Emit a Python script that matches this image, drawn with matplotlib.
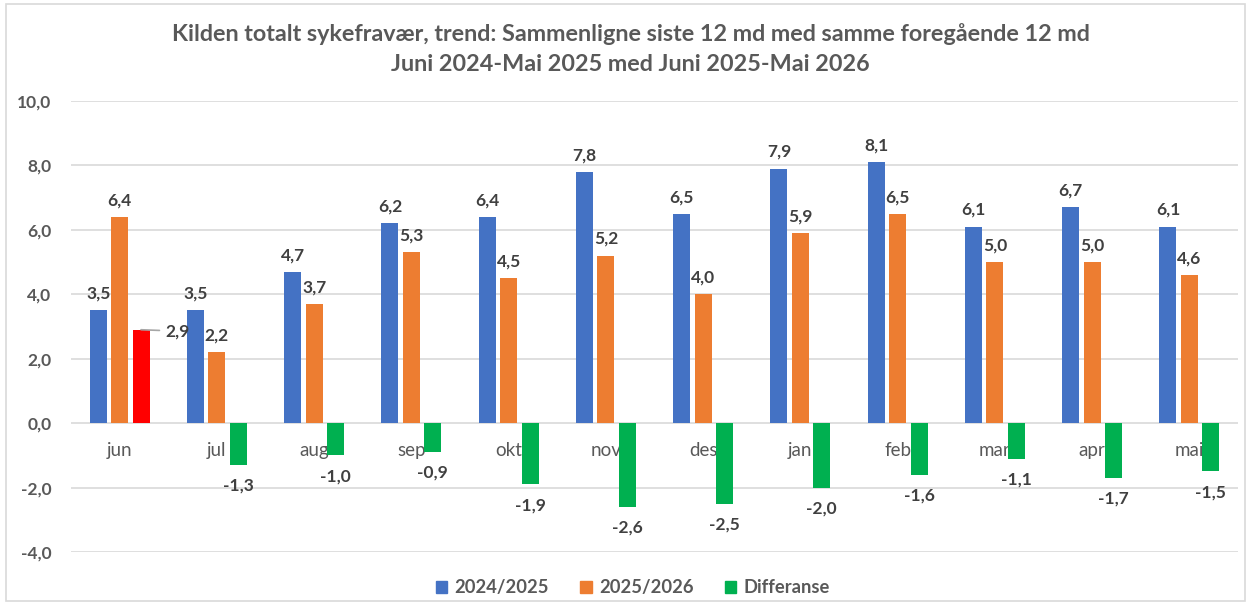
import matplotlib
matplotlib.use("Agg")
import matplotlib.pyplot as plt
from matplotlib.patches import Rectangle
import numpy as np

months = ["jun", "jul", "aug", "sep", "okt", "nov", "des", "jan", "feb", "mar", "apr", "mai"]
series_2024 = [3.5, 3.5, 4.7, 6.2, 6.4, 7.8, 6.5, 7.9, 8.1, 6.1, 6.7, 6.1]
series_2025 = [6.4, 2.2, 3.7, 5.3, 4.5, 5.2, 4.0, 5.9, 6.5, 5.0, 5.0, 4.6]
differanse = [2.9, -1.3, -1.0, -0.9, -1.9, -2.6, -2.5, -2.0, -1.6, -1.1, -1.7, -1.5]
series_names = ["2024/2025", "2025/2026", "Differanse"]
yticks = [-4, -2, 0, 2, 4, 6, 8, 10]
title = ("Kilden totalt sykefravær, trend: Sammenligne siste 12 md med samme foregående 12 md\n"
         "Juni 2024-Mai 2025 med Juni 2025-Mai 2026")

BLUE, ORANGE, GREEN, RED = "#4472C4", "#ED7D31", "#00B050", "#FF0000"
GRAY = "#595959"
LBL = "#404040"
FONT = ["Lato", "DejaVu Sans"]
plt.rcParams["font.family"] = FONT

fig = plt.figure(figsize=(12.51, 6.04), dpi=100)
fig.patches.append(Rectangle((0.005, 0.005), 0.99, 0.988, transform=fig.transFigure,
                             fill=False, edgecolor="#d9d9d9", linewidth=1.2))
ax = fig.add_axes([71 / 1251, 1 - 552 / 604, (1238 - 71) / 1251, (552 - 101) / 604])

x = np.arange(len(months))
w = 0.175
pitch = 0.22
diff_colors = [RED if v > 0 else GREEN for v in differanse]
b1 = ax.bar(x - pitch, series_2024, w, color=BLUE, zorder=2, label=series_names[0])
b2 = ax.bar(x, series_2025, w, color=ORANGE, zorder=2, label=series_names[1])
b3 = ax.bar(x + pitch, differanse, w, color=diff_colors, zorder=2, label=series_names[2])

ax.set_xlim(-0.5, len(months) - 0.5)
ax.set_ylim(-4, 10)
ax.set_yticks(yticks)
ax.set_yticklabels([f"{t:.1f}".replace(".", ",") for t in yticks],
                   fontsize=12.5, fontweight="bold", color=GRAY)
ax.yaxis.grid(True, color="#d9d9d9", linewidth=1.2, zorder=0)
ax.set_axisbelow(True)
for s in ax.spines.values():
    s.set_visible(False)
ax.tick_params(axis="y", length=0, pad=14)
ax.set_xticks([])

# category labels near the zero line
for i, m in enumerate(months):
    ax.annotate(m, (i, 0), xytext=(0, -19.5), textcoords="offset points",
                ha="center", va="center", fontsize=13.5, color=GRAY, zorder=1)

def fmt(v):
    return f"{v:.1f}".replace(".", ",")

for bars, vals in ((b1, series_2024), (b2, series_2025)):
    for r, v in zip(bars, vals):
        ax.annotate(fmt(v), (r.get_x() + r.get_width() / 2, v), xytext=(0, 12),
                    textcoords="offset points", ha="center", va="center",
                    fontsize=12.5, fontweight="bold", color=LBL, zorder=4)

for r, v in zip(b3, differanse):
    cx = r.get_x() + r.get_width() / 2
    if v > 0:
        ax.annotate(fmt(v), (cx, v), xytext=(26, -1), textcoords="offset points",
                    ha="center", va="center", fontsize=12.5, fontweight="bold",
                    color=LBL, zorder=4,
                    arrowprops=dict(arrowstyle="-", color="#a6a6a6", lw=1.2,
                                    shrinkA=2, shrinkB=0))
    else:
        ax.annotate(fmt(v), (cx, v), xytext=(0, -15), textcoords="offset points",
                    ha="center", va="center", fontsize=12.5, fontweight="bold",
                    color=LBL, zorder=4)

fig.text(0.504, 0.919, title, ha="center", va="center", fontsize=16.8,
         fontweight="bold", color=GRAY, linespacing=1.5)

handles = [Rectangle((0, 0), 1, 1, color=c) for c in (BLUE, ORANGE, GREEN)]
leg = fig.legend(handles, series_names, loc="center", bbox_to_anchor=(0.506, 0.027),
                 ncol=3, frameon=False, handlelength=0.62, handleheight=0.62,
                 handletextpad=0.4, columnspacing=1.7,
                 prop={"size": 13.2, "weight": "bold"})
for t in leg.get_texts():
    t.set_color(GRAY)

fig.savefig("out.png", dpi=100)
